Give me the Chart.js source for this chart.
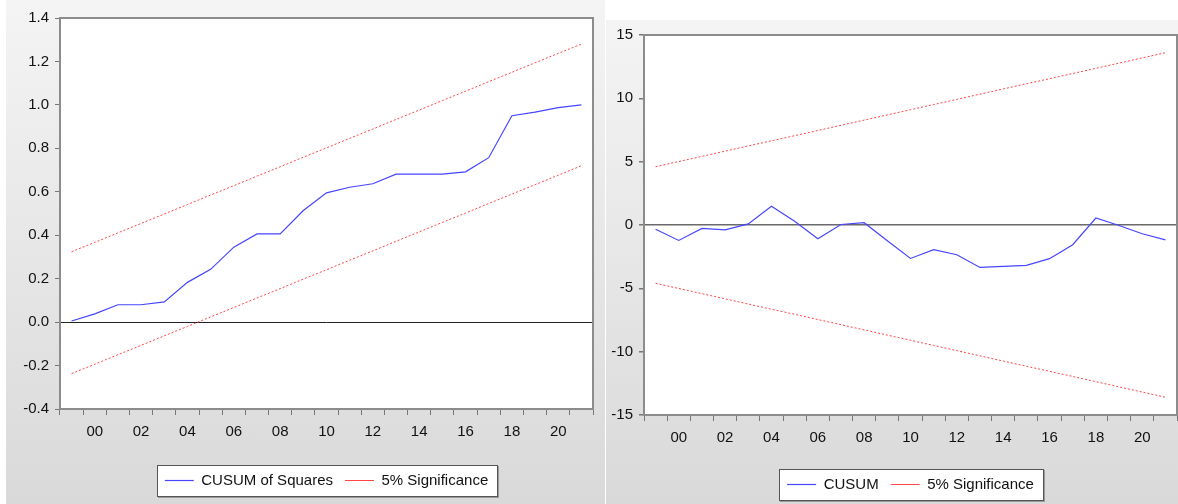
<!DOCTYPE html>
<html>
<head>
<meta charset="utf-8">
<script src="https://cdn.jsdelivr.net/npm/chart.js@4.4.0/dist/chart.umd.min.js"></script>
<style>
body { margin: 0; background: #fff; width: 1178px; height: 504px; position: relative; overflow: hidden; }
.panel { position: absolute; background: linear-gradient(#f4f4f4, #d9d9d9); }
#left { left: 6px; top: 0; width: 599px; height: 504px; }
#right { left: 606px; top: 20px; width: 572px; height: 484px; }
canvas { display: block; }
</style>
</head>
<body>
<div class="panel" id="left"><canvas id="cusumsq" width="599" height="504"></canvas></div>
<div class="panel" id="right"><canvas id="cusum" width="572" height="484"></canvas></div>
<script>
var years = ['1999', '2000', '2001', '2002', '2003', '2004', '2005', '2006', '2007', '2008', '2009', '2010',
             '2011', '2012', '2013', '2014', '2015', '2016', '2017', '2018', '2019', '2020', '2021'];
var yearLabels = ['', '00', '', '02', '', '04', '', '06', '', '08', '', '10',
                  '', '12', '', '14', '', '16', '', '18', '', '20', ''];

// left panel: CUSUM of Squares
var cusumSq = [0.005, 0.038, 0.08, 0.08, 0.093, 0.183, 0.243, 0.345, 0.406, 0.406, 0.514, 0.595,
               0.621, 0.637, 0.681, 0.681, 0.681, 0.692, 0.757, 0.95, 0.967, 0.987, 1.0];
var sqUpper = [0.324, 0.367, 0.411, 0.454, 0.498, 0.541, 0.585, 0.628, 0.672, 0.715, 0.759, 0.802,
               0.846, 0.889, 0.933, 0.976, 1.02, 1.063, 1.107, 1.15, 1.194, 1.237, 1.28];
var sqLower = [-0.237, -0.194, -0.15, -0.107, -0.063, -0.02, 0.024, 0.067, 0.111, 0.154, 0.198, 0.241,
               0.285, 0.328, 0.372, 0.415, 0.459, 0.502, 0.546, 0.589, 0.633, 0.676, 0.72];

// right panel: CUSUM
var cusum = [-0.34, -1.22, -0.27, -0.38, 0.09, 1.48, 0.3, -1.08, 0.04, 0.18, -1.25, -2.64,
             -1.95, -2.35, -3.35, -3.27, -3.19, -2.66, -1.56, 0.55, -0.04, -0.69, -1.17];
var cusumUpper = [4.6, 5.01, 5.42, 5.83, 6.24, 6.65, 7.05, 7.46, 7.87, 8.28, 8.69, 9.1,
                  9.51, 9.92, 10.33, 10.74, 11.15, 11.55, 11.96, 12.37, 12.78, 13.19, 13.6];
var cusumLower = [-4.6, -5.01, -5.42, -5.83, -6.24, -6.65, -7.05, -7.46, -7.87, -8.28, -8.69, -9.1,
                  -9.51, -9.92, -10.33, -10.74, -11.15, -11.55, -11.96, -12.37, -12.78, -13.19, -13.6];

Chart.defaults.font.family = "'Liberation Sans', Arial, sans-serif";
Chart.defaults.font.size = 15;
Chart.defaults.color = '#111';

// white plot area, boxed legend and grey frame like the EViews graphs
var panelPlugin = {
    id: 'panel',
    beforeDraw: function(chart) {
        var ctx = chart.ctx, a = chart.chartArea;
        ctx.save();
        ctx.fillStyle = '#fff';
        ctx.fillRect(a.left, a.top, a.right - a.left, a.bottom - a.top);
        var boxes = chart.legend.legendHitBoxes;
        if (boxes && boxes.length) {
            var l = Math.round(Math.min.apply(null, boxes.map(function(b) { return b.left; })) - 8);
            var r = Math.round(Math.max.apply(null, boxes.map(function(b) { return b.left + b.width; })) + 9);
            var t = Math.round(boxes[0].top + boxes[0].height / 2 - 15.5);
            ctx.fillStyle = '#9a9a9a';
            ctx.fillRect(l + 1, t + 1, r - l + 1, 32);
            ctx.fillStyle = '#fff';
            ctx.fillRect(l, t, r - l, 31);
            ctx.strokeStyle = '#555';
            ctx.lineWidth = 1;
            ctx.strokeRect(l + 0.5, t + 0.5, r - l, 31);
        }
        ctx.restore();
    },
    afterDraw: function(chart) {
        var ctx = chart.ctx, a = chart.chartArea;
        ctx.save();
        ctx.strokeStyle = '#8c8c8c';
        ctx.lineWidth = 2;
        ctx.strokeRect(a.left, a.top, a.right - a.left, a.bottom - a.top);
        ctx.restore();
    }
};

function makeChart(id, datasets, yMin, yMax, yStep, yWidth, xHeight, pad, zeroColor, zeroWidth, fmt) {
    return new Chart(document.getElementById(id), {
        type: 'line',
        data: { labels: years, datasets: datasets },
        options: {
            responsive: false,
            animation: false,
            layout: { padding: pad },
            elements: { point: { radius: 0 }, line: { tension: 0 } },
            plugins: {
                tooltip: { enabled: false },
                legend: {
                    position: 'bottom',
                    fullSize: false,
                    labels: {
                        usePointStyle: true,
                        pointStyle: 'line',
                        pointStyleWidth: 29,
                        padding: 12,
                        color: '#111',
                        font: { size: 15 },
                        filter: function(item) { return item.datasetIndex < 2; }
                    }
                }
            },
            scales: {
                x: {
                    offset: true,
                    afterFit: function(s) { s.height = xHeight; },
                    border: { display: false },
                    grid: { offset: true, drawOnChartArea: false, tickLength: 6, tickColor: '#777' },
                    ticks: {
                        autoSkip: false, maxRotation: 0, padding: 8, color: '#111',
                        callback: function(v, i) { return yearLabels[i]; }
                    }
                },
                y: {
                    min: yMin, max: yMax,
                    afterFit: function(s) { s.width = yWidth; },
                    border: { display: false },
                    grid: {
                        tickLength: 5,
                        tickColor: '#777',
                        lineWidth: zeroWidth,
                        color: function(c) {
                            return c.tick && Math.abs(c.tick.value) < 1e-9 ? zeroColor : 'rgba(0,0,0,0)';
                        }
                    },
                    ticks: { stepSize: yStep, padding: 6, color: '#111', callback: fmt }
                }
            }
        },
        plugins: [panelPlugin]
    });
}

var blue = 'rgb(70,70,255)';
var red = 'rgb(255,70,70)';

makeChart('cusumsq', [
    { label: 'CUSUM of Squares', data: cusumSq, borderColor: blue, borderWidth: 1.2 },
    { label: '5% Significance', data: sqUpper, borderColor: red, borderWidth: 1, borderDash: [2, 2] },
    { label: '5% Significance', data: sqLower, borderColor: red, borderWidth: 1, borderDash: [2, 2] }
], -0.4, 1.4, 0.2, 54, 52, { top: 18, right: 12, bottom: 6, left: 0 }, '#222', 1,
function(v) { return Math.abs(v) < 1e-9 ? '0.0' : v.toFixed(1); });

makeChart('cusum', [
    { label: 'CUSUM', data: cusum, borderColor: blue, borderWidth: 1.2 },
    { label: '5% Significance', data: cusumUpper, borderColor: red, borderWidth: 1, borderDash: [2, 2] },
    { label: '5% Significance', data: cusumLower, borderColor: red, borderWidth: 1, borderDash: [2, 2] }
], -15, 15, 5, 38, 50, { top: 14, right: 1, bottom: 2, left: 0 }, '#6a6a6a', 1.5,
function(v) { return String(v); });
</script>
</body>
</html>
